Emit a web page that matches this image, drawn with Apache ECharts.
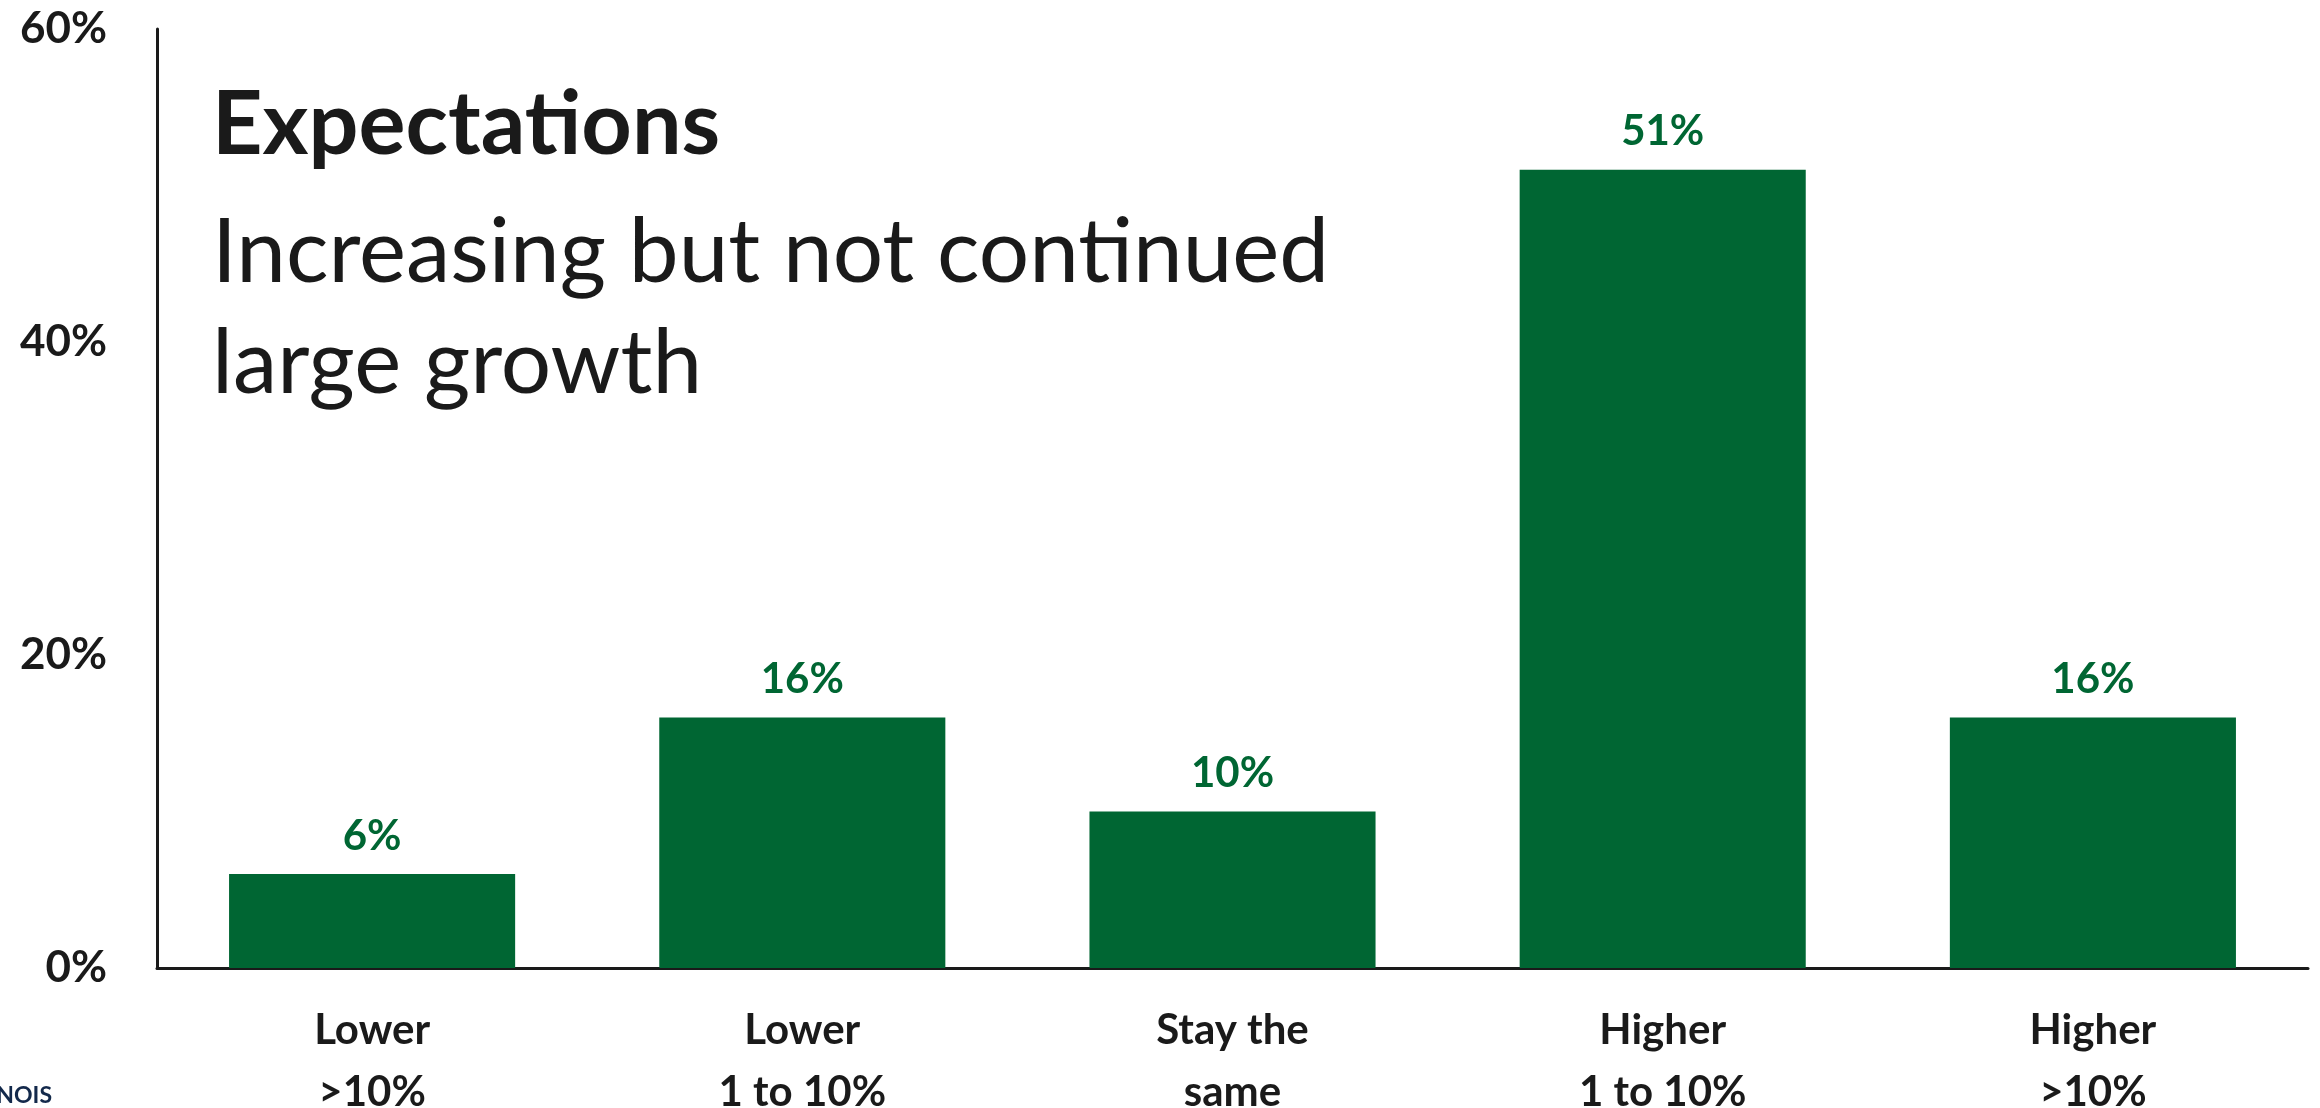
<!DOCTYPE html>
<html>
<head>
<meta charset="utf-8">
<title>Expectations</title>
<script src="https://cdn.jsdelivr.net/npm/echarts@6/dist/echarts.min.js"></script>
<style>
    html, body { margin: 0; padding: 0; background: #fff; }
    #myChart { width: 2320px; height: 1108px; }
</style>
</head>
<body>
<div id="myChart"></div>
<script>
/* 数据 */
var categories = ['Lower\n>10%', 'Lower\n1 to 10%', 'Stay the\nsame', 'Higher\n1 to 10%', 'Higher\n>10%'];
var values = [6, 16, 10, 51, 16];
var yMin = 0, yMax = 60, yStep = 20;

var titleText = 'Expectations';
var subText = 'Increasing but not continued\nlarge growth';
var logoText = 'ILLINOIS';

var green = '#006633';
var ink = '#1a1a1a';
var font = 'Lato';

var myChart = echarts.init(document.getElementById('myChart'));

var option = {
    backgroundColor: '#fff',
    animation: false,
    title: [{
        text: titleText,
        left: 207,
        top: 77,
        textStyle: {
            fontFamily: font,
            fontWeight: 'bold',
            fontSize: 88,
            lineHeight: 88,
            color: ink
        }
    }, {
        text: subText,
        left: 207,
        top: 193,
        textStyle: {
            fontFamily: font,
            fontWeight: 'normal',
            fontSize: 89,
            lineHeight: 111,
            color: ink
        }
    }],
    graphic: [{
        type: 'text',
        right: 2320 - 52,
        bottom: 1,
        style: {
            text: logoText,
            font: 'bold 23px ' + font,
            fill: '#13294b'
        }
    }],
    grid: {
        left: 157,
        right: 12,
        top: 29,
        bottom: 140,
        containLabel: false,
        outerBoundsMode: 'none'
    },
    xAxis: {
        type: 'category',
        data: categories,
        axisLine: { lineStyle: { color: ink, width: 3 } },
        axisTick: { show: false },
        axisLabel: {
            margin: 31,
            fontFamily: font,
            fontWeight: 'bold',
            fontSize: 42,
            lineHeight: 62,
            color: ink
        }
    },
    yAxis: {
        type: 'value',
        min: yMin,
        max: yMax,
        interval: yStep,
        splitLine: { show: false },
        axisLine: { show: true, lineStyle: { color: ink, width: 3 } },
        axisTick: { show: false },
        axisLabel: {
            margin: 50,
            formatter: '{value}%',
            fontFamily: font,
            fontWeight: 'bold',
            fontSize: 44,
            color: ink
        }
    },
    series: [{
        type: 'bar',
        data: values,
        barCategoryGap: '33.5%',
        itemStyle: { color: green },
        label: {
            show: true,
            position: 'top',
            distance: 17,
            formatter: '{c}%',
            fontFamily: font,
            fontWeight: 'bold',
            fontSize: 42,
            lineHeight: 42,
            color: green
        }
    }]
};

myChart.setOption(option);
</script>
</body>
</html>
